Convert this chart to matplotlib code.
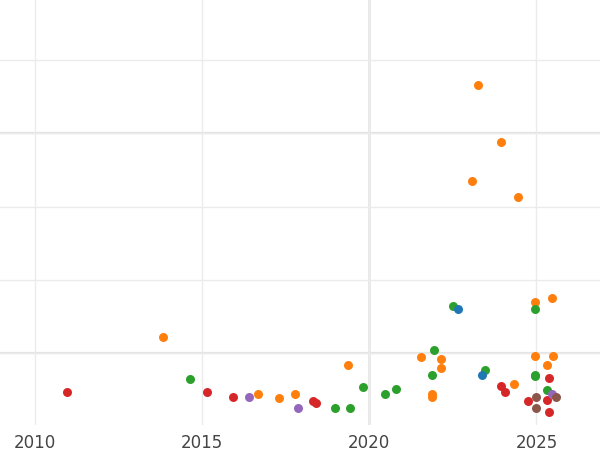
import matplotlib
matplotlib.use("Agg")
import matplotlib.pyplot as plt

# year, value per series
orange_x = [2013.83, 2016.68, 2017.31, 2017.78, 2019.37, 2021.53, 2021.86, 2021.86, 2022.13, 2022.13,
            2023.08, 2023.26, 2023.95, 2024.34, 2024.46, 2024.97, 2024.97, 2025.30, 2025.45, 2025.48]
orange_y = [1.23, 0.44, 0.39, 0.44, 0.84, 0.95, 0.44, 0.40, 0.92, 0.80,
            3.35, 4.66, 3.88, 0.58, 3.13, 1.70, 0.97, 0.84, 1.76, 0.97]
green_x = [2014.64, 2018.98, 2019.43, 2019.82, 2020.48, 2020.81, 2021.86, 2021.92, 2022.49, 2023.47,
           2024.97, 2024.97, 2024.97, 2025.30]
green_y = [0.65, 0.26, 0.25, 0.54, 0.45, 0.51, 0.71, 1.05, 1.65, 0.77, 1.61, 0.71, 0.69, 0.50]
blue_x = [2022.66, 2023.38]
blue_y = [1.61, 0.70]
red_x = [2010.96, 2015.15, 2015.93, 2018.32, 2018.41, 2023.95, 2024.07, 2024.76, 2025.30, 2025.36, 2025.36]
red_y = [0.48, 0.47, 0.40, 0.35, 0.33, 0.56, 0.48, 0.35, 0.37, 0.67, 0.20]
purple_x = [2016.41, 2017.87, 2025.45]
purple_y = [0.40, 0.25, 0.45]
brown_x = [2025.00, 2025.00, 2025.57]
brown_y = [0.40, 0.25, 0.40]

series = [
    (orange_x, orange_y, '#ff7f0e'),
    (green_x, green_y, '#2ca02c'),
    (blue_x, blue_y, '#1f77b4'),
    (red_x, red_y, '#d62728'),
    (purple_x, purple_y, '#9467bd'),
    (brown_x, brown_y, '#8c564b'),
]

fig = plt.figure(figsize=(6, 4.5), dpi=100)
ax = fig.add_axes([0, 0.055, 1, 0.945])

for x, y, c in series:
    ax.scatter(x, y, s=42, color=c, linewidths=0, zorder=3)

ax.set_xlim(2008.95, 2026.9)
ax.set_ylim(0.02, 5.82)
ax.set_xticks([2010, 2015, 2020, 2025])
ax.set_yticks([1, 2, 3, 4, 5])
ax.set_yticklabels([])
ax.grid(True, color='#ebebeb', linewidth=1, zorder=0)
ax.axvline(2020, color='#e3e3e3', linewidth=1.8, zorder=1)
for yy in [1, 4]:
    ax.axhline(yy, color='#e3e3e3', linewidth=1.6, zorder=1)
for s in ax.spines.values():
    s.set_visible(False)
ax.tick_params(length=0, labelsize=12, colors='#444444', pad=6)
ax.tick_params(axis='y', left=False, labelleft=False)

fig.savefig('out.png', dpi=100)
